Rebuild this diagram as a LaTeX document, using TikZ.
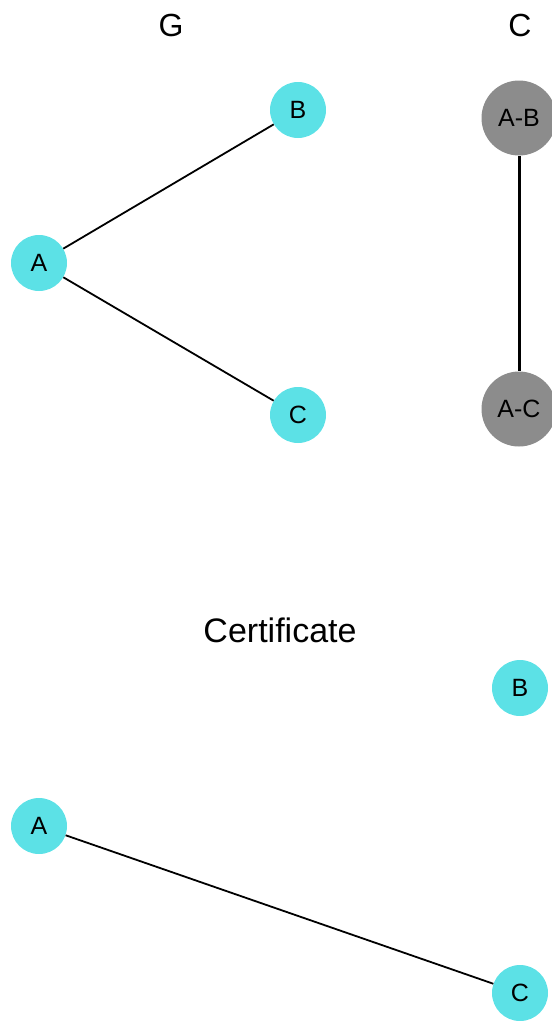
\documentclass[tikz,border=0pt]{standalone}
\usepackage{fontspec}
\setmainfont{Liberation Sans}
\definecolor{nodecyan}{HTML}{5CE1E6}
\definecolor{nodegray}{HTML}{8C8C8C}
\begin{document}
\begin{tikzpicture}[x=1pt,y=-1pt,
  vert/.style={circle,fill=nodecyan,minimum size=56pt,inner sep=0pt,font=\fontsize{25}{30}\selectfont},
  pair/.style={circle,fill=nodegray,minimum size=75pt,inner sep=0pt,font=\fontsize{25}{30}\selectfont},
  title/.style={font=\fontsize{32}{38}\selectfont},
  edge/.style={draw=black,line width=1.8pt},
  cedge/.style={draw=black,line width=3pt}]
\useasboundingbox (0,0) rectangle (552,1021);

% graph G
\node[title] (tG) at (171,25) {G};
\node[vert] (gA) at (39,263) {A};
\node[vert] (gB) at (298,110) {B};
\node[vert] (gC) at (298,415) {C};
\draw[edge] (gA) -- (gB);
\draw[edge] (gA) -- (gC);

% conflict graph C
\node[title] (tC) at (520,25) {C};
\node[pair] (cAB) at (519,118) {A-B};
\node[pair] (cAC) at (519,409) {A-C};
\draw[cedge] (cAB) -- (cAC);

% certificate
\node[font=\fontsize{34}{40}\selectfont] (cert) at (280,630) {Certificate};
\node[vert] (kB) at (520,688) {B};
\node[vert] (kA) at (39,826) {A};
\node[vert] (kC) at (520,993) {C};
\draw[edge] (kA) -- (kC);
\end{tikzpicture}
\end{document}
